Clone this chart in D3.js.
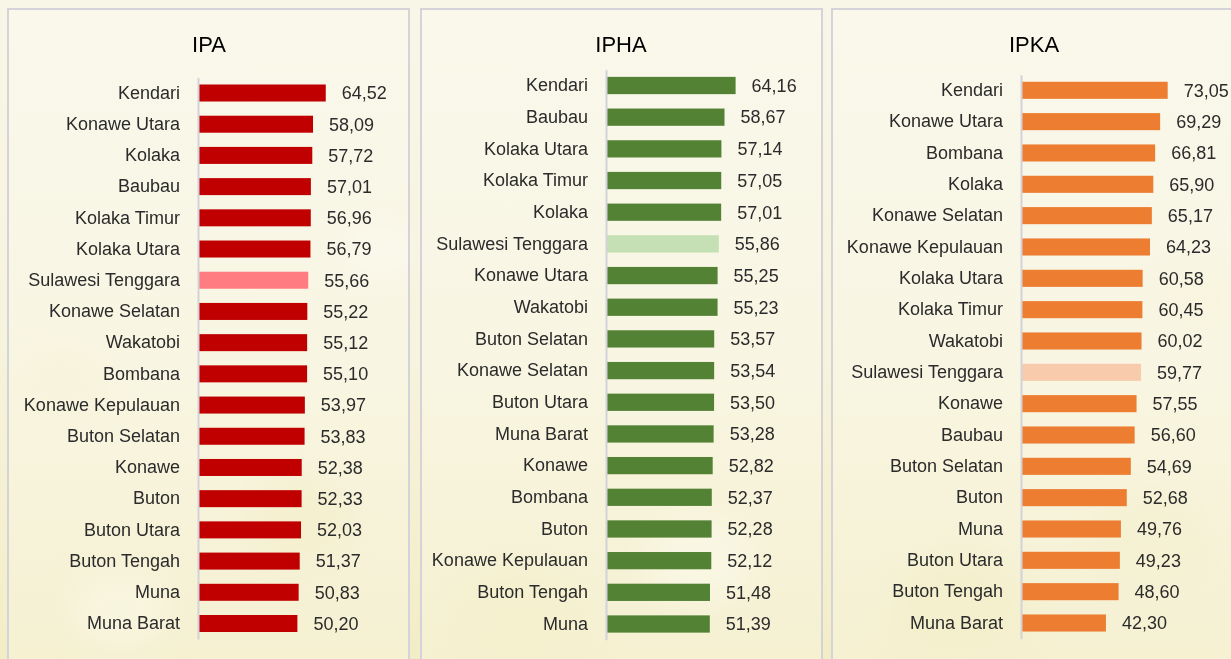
<!DOCTYPE html>
<html>
<head>
<meta charset="utf-8">
<script src="https://cdn.jsdelivr.net/npm/d3@7"></script>
<style>
  html, body { margin: 0; padding: 0; }
  body { width: 1231px; height: 659px; overflow: hidden; }
  svg { display: block; font-family: "Liberation Sans", Arial, Helvetica, sans-serif; }
</style>
</head>
<body>
<svg id="chart" width="1231" height="659"></svg>
<script>
// IPA – Indeks Pembangunan Anak (ranked)
const ipaRegions = ["Kendari", "Konawe Utara", "Kolaka", "Baubau", "Kolaka Timur", "Kolaka Utara",
  "Sulawesi Tenggara", "Konawe Selatan", "Wakatobi", "Bombana", "Konawe Kepulauan", "Buton Selatan",
  "Konawe", "Buton", "Buton Utara", "Buton Tengah", "Muna", "Muna Barat"];
const ipaValues = [64.52, 58.09, 57.72, 57.01, 56.96, 56.79, 55.66, 55.22, 55.12, 55.10, 53.97, 53.83,
  52.38, 52.33, 52.03, 51.37, 50.83, 50.20];

// IPHA
const iphaRegions = ["Kendari", "Baubau", "Kolaka Utara", "Kolaka Timur", "Kolaka", "Sulawesi Tenggara",
  "Konawe Utara", "Wakatobi", "Buton Selatan", "Konawe Selatan", "Buton Utara", "Muna Barat",
  "Konawe", "Bombana", "Buton", "Konawe Kepulauan", "Buton Tengah", "Muna"];
const iphaValues = [64.16, 58.67, 57.14, 57.05, 57.01, 55.86, 55.25, 55.23, 53.57, 53.54, 53.50, 53.28,
  52.82, 52.37, 52.28, 52.12, 51.48, 51.39];

// IPKA
const ipkaRegions = ["Kendari", "Konawe Utara", "Bombana", "Kolaka", "Konawe Selatan", "Konawe Kepulauan",
  "Kolaka Utara", "Kolaka Timur", "Wakatobi", "Sulawesi Tenggara", "Konawe", "Baubau",
  "Buton Selatan", "Buton", "Muna", "Buton Utara", "Buton Tengah", "Muna Barat"];
const ipkaValues = [73.05, 69.29, 66.81, 65.90, 65.17, 64.23, 60.58, 60.45, 60.02, 59.77, 57.55, 56.60,
  54.69, 52.68, 49.76, 49.23, 48.60, 42.30];

const panelTitles = ["IPA", "IPHA", "IPKA"];
const provinceName = "Sulawesi Tenggara";

// Layout of each panel (frame, axis position, bar scale and row band)
const panels = [
  { title: panelTitles[0], regions: ipaRegions, values: ipaValues,
    frame: [8, 409], axisX: 198, pxPerUnit: 1.98, firstY: 93, lastY: 623.5, titleX: 209,
    color: "#c00000", highlight: "#ff7c80" },
  { title: panelTitles[1], regions: iphaRegions, values: iphaValues,
    frame: [421, 822], axisX: 606, pxPerUnit: 2.02, firstY: 85.5, lastY: 624, titleX: 621,
    color: "#548235", highlight: "#c5e0b4" },
  { title: panelTitles[2], regions: ipkaRegions, values: ipkaValues,
    frame: [832, 1245], axisX: 1021, pxPerUnit: 2.008, firstY: 90.3, lastY: 623, titleX: 1034,
    color: "#ed7d31", highlight: "#f8cbad" }
];

const svg = d3.select("#chart");
const W = 1231, H = 659;

// Cream paper background with a warm haze toward the bottom
const defs = svg.append("defs");
const bg = defs.append("linearGradient").attr("id", "bg").attr("x1", 0).attr("y1", 0).attr("x2", 0).attr("y2", 1);
bg.append("stop").attr("offset", "0%").attr("stop-color", "#f8f6e7");
bg.append("stop").attr("offset", "55%").attr("stop-color", "#f7f3dc");
bg.append("stop").attr("offset", "100%").attr("stop-color", "#f3edc6");
svg.append("rect").attr("width", W).attr("height", H).attr("fill", "url(#bg)");

const blur = defs.append("filter").attr("id", "soft").attr("x", "-50%").attr("y", "-50%").attr("width", "200%").attr("height", "200%");
blur.append("feGaussianBlur").attr("stdDeviation", 14);
const spots = [
  [120, 610, 50, "#f8f4dc"], [300, 520, 50, "#f1eabd"], [520, 620, 70, "#f2ecc0"],
  [700, 560, 55, "#f9f6e2"], [960, 610, 65, "#f0e9bb"], [1150, 540, 55, "#f2ecc4"],
  [60, 380, 45, "#f5f0d2"], [1200, 300, 45, "#f5f1d6"], [380, 250, 40, "#faf7e8"]
];
svg.append("g").attr("filter", "url(#soft)")
  .selectAll("ellipse").data(spots).join("ellipse")
  .attr("cx", d => d[0]).attr("cy", d => d[1]).attr("rx", d => d[2]).attr("ry", d => d[2] * 0.8)
  .attr("fill", d => d[3]).attr("opacity", 0.7);

const fmt = v => d3.format(".2f")(v).replace(".", ",");

panels.forEach(p => {
  const g = svg.append("g");

  // Frame
  g.append("rect")
    .attr("x", p.frame[0]).attr("y", 9)
    .attr("width", p.frame[1] - p.frame[0]).attr("height", H + 20)
    .attr("fill", "rgba(255,255,250,0.22)")
    .attr("stroke", "#d3d3d9").attr("stroke-width", 2);

  // Title
  g.append("text")
    .attr("x", p.titleX).attr("y", 52)
    .attr("text-anchor", "middle")
    .attr("font-size", 22).attr("fill", "#000")
    .text(p.title);

  const n = p.regions.length;
  const step = (p.lastY - p.firstY) / (n - 1);
  const y = d3.scaleBand()
    .domain(p.regions)
    .range([p.firstY - step / 2, p.lastY + step / 2])
    .paddingInner(0.455).paddingOuter(0.2275);

  const maxV = d3.max(p.values);
  const x = d3.scaleLinear().domain([0, maxV]).range([p.axisX, p.axisX + p.pxPerUnit * maxV]);

  const rows = p.regions.map((r, i) => ({ region: r, value: p.values[i] }));

  // Bars
  g.selectAll("rect.bar").data(rows).join("rect")
    .attr("class", "bar")
    .attr("x", x(0))
    .attr("y", d => y(d.region))
    .attr("width", d => x(d.value) - x(0))
    .attr("height", y.bandwidth())
    .attr("fill", d => d.region === provinceName ? p.highlight : p.color);

  // Category axis
  const axis = d3.axisLeft(y).tickSize(0).tickPadding(18);
  const ax = g.append("g").attr("transform", `translate(${p.axisX},0)`).call(axis);
  ax.select(".domain").attr("stroke", "#d2d2da").attr("stroke-width", 2);
  ax.selectAll("text")
    .attr("font-size", 18)
    .attr("font-family", "\"Liberation Sans\", Arial, sans-serif")
    .attr("fill", "#2b2b2b");

  // Value labels
  g.selectAll("text.val").data(rows).join("text")
    .attr("class", "val")
    .attr("x", d => x(d.value) + 16)
    .attr("y", d => y(d.region) + y.bandwidth() / 2)
    .attr("dy", "0.35em")
    .attr("font-size", 18)
    .attr("fill", "#2b2b2b")
    .text(d => fmt(d.value));
});
</script>
</body>
</html>
